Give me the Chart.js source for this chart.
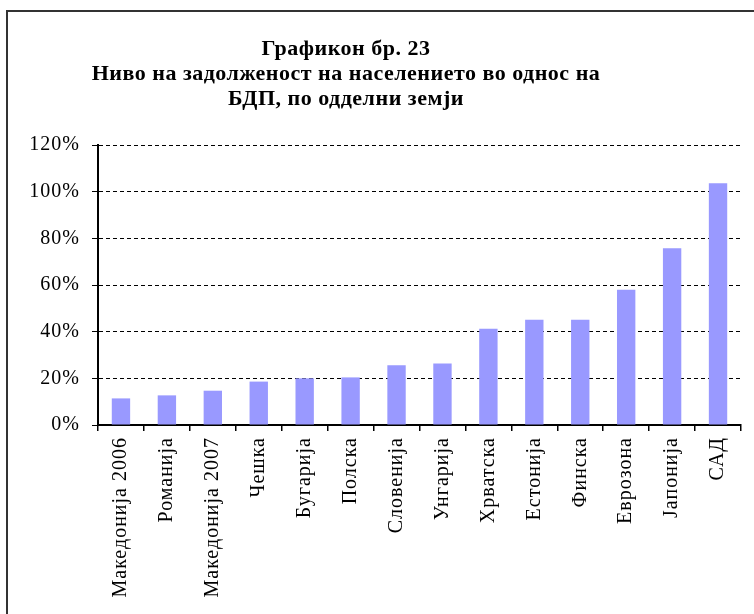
<!DOCTYPE html>
<html>
<head>
<meta charset="utf-8">
<script src="https://cdn.jsdelivr.net/npm/chart.js@4.4.0/dist/chart.umd.min.js"></script>
<style>
    html, body { margin: 0; padding: 0; background: #fff; overflow: hidden; }
    body { width: 754px; height: 614px; position: relative; }
    #frame {
        position: absolute; left: 6px; top: 10px; right: -10px; bottom: -10px;
        border: 2px solid #333;
    }
    #title {
        position: absolute; left: 46px; width: 600px; top: 35px;
        text-align: center; font: bold 22px "Liberation Serif", serif;
        line-height: 25px; color: #000; letter-spacing: 0.5px;
    }
    #wrap { position: absolute; left: 0; top: 0; width: 754px; height: 614px; }
</style>
</head>
<body>
<div id="frame"></div>
<div id="wrap"><canvas id="chart"></canvas></div>
<div id="title">Графикон бр. 23<br>Ниво на задолженост на населението во однос на<br>БДП, по одделни земји</div>
<script>
// Household debt as share of GDP, by country
const countries = ['Македонија 2006', 'Романија', 'Македонија 2007', 'Чешка', 'Бугарија', 'Полска',
    'Словенија', 'Унгарија', 'Хрватска', 'Естонија', 'Финска', 'Еврозона', 'Јапонија', 'САД'];
const debtShare = [11.4, 12.7, 14.7, 18.6, 20.0, 20.4, 25.6, 26.4, 41.3, 45.1, 45.1, 58.0, 75.7, 103.6];
const yTicks = [0, 20, 40, 60, 80, 100, 120];

const serif = '"Liberation Serif", "Times New Roman", serif';

// the original labels are set a bit wide, like in Excel
const spacedText = {
    id: 'spacedText',
    beforeDraw(chart) { chart.ctx.letterSpacing = '1px'; }
};

new Chart(document.getElementById('chart'), {
    type: 'bar',
    data: {
        labels: countries,
        datasets: [{
            data: debtShare,
            backgroundColor: '#9999FF',
            borderWidth: 0,
            barPercentage: 0.4,
            categoryPercentage: 1
        }]
    },
    options: {
        responsive: true,
        maintainAspectRatio: false,
        animation: false,
        layout: { padding: { top: 145, right: 13, left: 0, bottom: 0 } },
        plugins: {
            legend: { display: false },
            tooltip: { enabled: false }
        },
        scales: {
            x: {
                afterFit: (scale) => { scale.height = 189; },
                grid: { drawOnChartArea: false, color: '#000', tickLength: 6, lineWidth: 1.5 },
                border: { color: '#000', width: 2 },
                ticks: {
                    minRotation: 90, maxRotation: 90, autoSkip: false,
                    color: '#000', padding: 6,
                    font: { family: serif, size: 20 }
                }
            },
            y: {
                min: 0, max: 120,
                afterFit: (scale) => { scale.width = 98; },
                afterBuildTicks: (scale) => { scale.ticks = yTicks.map(v => ({ value: v })); },
                grid: { color: '#000', lineWidth: 1, tickLength: 6, tickBorderDash: [], tickColor: '#000' },
                border: { color: '#000', width: 2, dash: [4, 3] },
                ticks: {
                    color: '#000', padding: 12,
                    font: { family: serif, size: 20 },
                    callback: (v) => v + '%'
                }
            }
        }
    },
    plugins: [spacedText]
});
</script>
</body>
</html>
